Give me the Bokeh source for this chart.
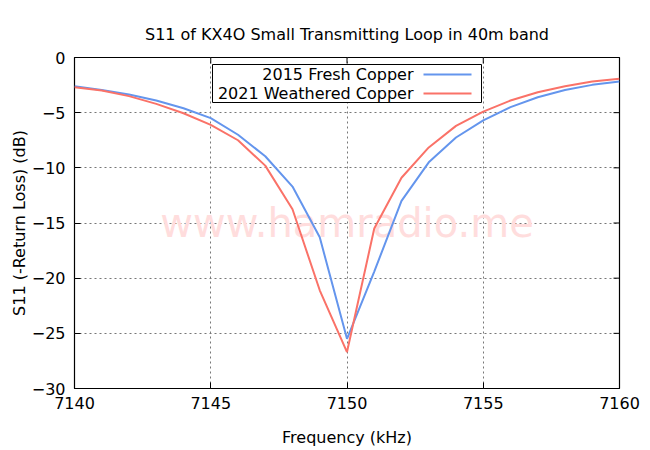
from bokeh.plotting import figure
from bokeh.models import Range1d, Label, BoxAnnotation, FixedTicker
from bokeh.embed import file_html
from bokeh.resources import INLINE

freq = [7140, 7141, 7142, 7143, 7144, 7145, 7146, 7147, 7148, 7149, 7150,
        7151, 7152, 7153, 7154, 7155, 7156, 7157, 7158, 7159, 7160]
s11_2015 = [-2.6, -2.95, -3.35, -3.9, -4.6, -5.5, -7.0, -8.95, -11.7, -16.3, -25.5,
            -19.4, -13.0, -9.5, -7.25, -5.7, -4.5, -3.6, -2.95, -2.48, -2.18]
s11_2021 = [-2.7, -3.0, -3.5, -4.2, -5.05, -6.1, -7.5, -9.8, -13.75, -21.1, -26.7,
            -15.5, -10.9, -8.15, -6.2, -4.9, -3.9, -3.15, -2.6, -2.18, -1.93]
series_names = ["2015 Fresh Copper", "2021 Weathered Copper"]
colors = ["#6495ed", "#fa7268"]
x_ticks = [7140, 7145, 7150, 7155, 7160]
y_ticks = [0, -5, -10, -15, -20, -25, -30]

FONT = "DejaVu Sans"
FS = "16px"
X0, X1, Y0, Y1 = 7140, 7160, -30, 0
PX_X = 545 / (X1 - X0)   # px per kHz
PX_Y = 331 / (Y1 - Y0)   # px per dB

p = figure(width=650, height=450, output_backend="svg", toolbar_location=None,
           x_range=Range1d(X0, X1), y_range=Range1d(Y0, Y1),
           min_border_left=74, min_border_right=31, min_border_top=57, min_border_bottom=62)
p.background_fill_color = "white"
p.border_fill_color = "white"
p.outline_line_color = "black"
p.outline_line_width = 1.2

p.title.text = "S11 of KX4O Small Transmitting Loop in 40m band"
p.title.align = "center"
p.title.text_font = FONT
p.title.text_font_size = FS
p.title.text_font_style = "normal"
p.title.text_color = "black"
p.title.standoff = 27

for ax in [p.xaxis[0], p.yaxis[0]]:
    ax.axis_line_color = None
    ax.major_tick_in = 6
    ax.major_tick_out = 0
    ax.minor_tick_line_color = None
    ax.major_label_text_font = FONT
    ax.major_label_text_font_size = FS
    ax.major_label_text_color = "black"
    ax.axis_label_text_font = FONT
    ax.axis_label_text_font_size = FS
    ax.axis_label_text_font_style = "normal"
    ax.axis_label_text_color = "black"
p.xaxis.ticker = FixedTicker(ticks=x_ticks)
p.yaxis.ticker = FixedTicker(ticks=y_ticks)
p.xaxis.axis_label = "Frequency (kHz)"
p.yaxis.axis_label = "S11 (-Return Loss) (dB)"
p.xaxis.major_label_standoff = 8
p.yaxis.major_label_standoff = 9
p.xaxis.axis_label_standoff = 16
p.yaxis.axis_label_standoff = 0

# mirrored inward ticks on top and right
tick_dy = 6 / PX_Y
tick_dx = 6 / PX_X
p.segment(x0=x_ticks, y0=[Y1] * len(x_ticks), x1=x_ticks, y1=[Y1 - tick_dy] * len(x_ticks),
          line_color="black", line_width=1)
p.segment(x0=[X1] * len(y_ticks), y0=y_ticks, x1=[X1 - tick_dx] * len(y_ticks), y1=y_ticks,
          line_color="black", line_width=1)

p.xgrid.ticker = FixedTicker(ticks=x_ticks)
p.ygrid.ticker = FixedTicker(ticks=y_ticks)
for g in [p.xgrid[0], p.ygrid[0]]:
    g.grid_line_color = "#777777"
    g.grid_line_dash = "2 3"
    g.grid_line_width = 1

# watermark
p.add_layout(Label(x=7150, y=-15.0, text="www.hamradio.me", text_align="center",
                   text_baseline="middle", text_font=FONT, text_font_size="40px",
                   text_color="#ffdddd", level="underlay"))

p.line(freq, s11_2015, line_color=colors[0], line_width=2)
p.line(freq, s11_2021, line_color=colors[1], line_width=2)

# legend box: text right-aligned, sample line on right (gnuplot style)
def sx(px):
    return X0 + (px - 74) / PX_X

def sy(py):
    return Y1 - (py - 57) / PX_Y

p.add_layout(BoxAnnotation(left=sx(212), right=sx(481), top=sy(64), bottom=sy(102),
                           fill_color="white", fill_alpha=1,
                           line_color="black", line_alpha=1, line_width=1, level="overlay"))
for i, name in enumerate(series_names):
    yc = 74 + 19 * i
    p.add_layout(Label(x=sx(413), y=sy(yc), text=name,
                       text_align="right", text_baseline="middle", text_font=FONT,
                       text_font_size=FS, text_color="black", level="overlay"))
    p.add_layout(BoxAnnotation(left=sx(423), right=sx(471), top=sy(yc - 1), bottom=sy(yc + 1),
                               fill_color=colors[i], fill_alpha=1, line_color=None,
                               level="overlay"))

open("out.html", "w").write(file_html(p, INLINE))
